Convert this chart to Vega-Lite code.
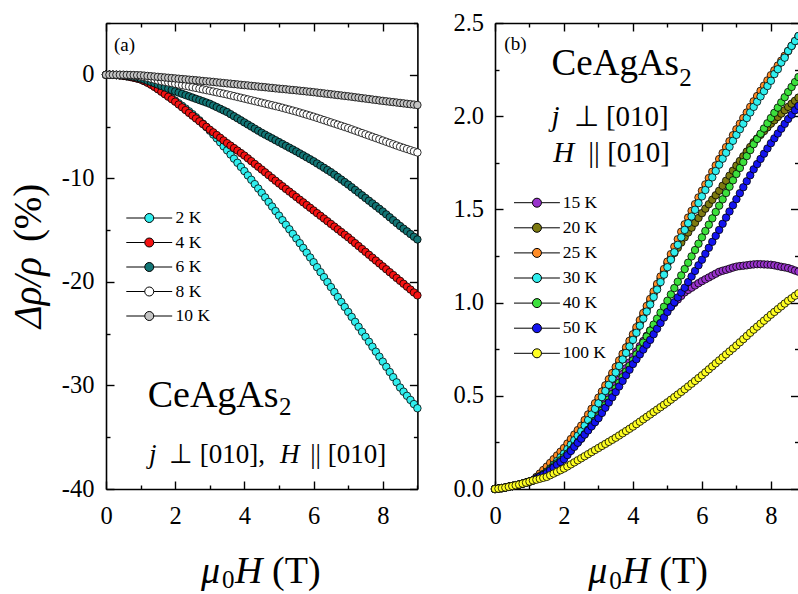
{
"$schema":"https://vega.github.io/schema/vega-lite/v6.json",
"padding":{"left":9,"top":10,"right":0,"bottom":0},
"background":"white",
"bounds":"flush",
"spacing":77,
"config":{"font":"Liberation Serif","view":{"stroke":null},
 "axis":{"domainColor":"black","domainWidth":1.6,"tickColor":"black","tickWidth":1.4,"labelFont":"Liberation Serif","labelFontSize":24.5,"labelColor":"black","grid":false,"labelFlush":false,"labelOverlap":false,"labelBound":false},
 "legend":{"labelFont":"Liberation Serif","labelColor":"black","padding":0},
 "text":{"font":"Liberation Serif","color":"black","align":"left","baseline":"alphabetic"}
},
"resolve":{"scale":{"fill":"independent"},"legend":{"fill":"independent"}},
"datasets":{
"a":[
{"s":2,"x":0,"y":0},{"s":2,"x":0.1,"y":0},{"s":2,"x":0.2,"y":-0.01},{"s":2,"x":0.3,"y":-0.03},{"s":2,"x":0.4,"y":-0.06},{"s":2,"x":0.5,"y":-0.1},{"s":2,"x":0.6,"y":-0.15},{"s":2,"x":0.7,"y":-0.21},{"s":2,"x":0.8,"y":-0.28},{"s":2,"x":0.9,"y":-0.36},{"s":2,"x":1,"y":-0.45},
{"s":2,"x":1.1,"y":-0.6},{"s":2,"x":1.2,"y":-0.75},{"s":2,"x":1.3,"y":-0.93},{"s":2,"x":1.4,"y":-1.13},{"s":2,"x":1.5,"y":-1.35},{"s":2,"x":1.6,"y":-1.57},{"s":2,"x":1.7,"y":-1.8},{"s":2,"x":1.8,"y":-2.03},{"s":2,"x":1.9,"y":-2.26},{"s":2,"x":2,"y":-2.5},
{"s":2,"x":2.1,"y":-2.75},{"s":2,"x":2.2,"y":-3},{"s":2,"x":2.3,"y":-3.26},{"s":2,"x":2.4,"y":-3.53},{"s":2,"x":2.5,"y":-3.8},{"s":2,"x":2.6,"y":-4.1},{"s":2,"x":2.7,"y":-4.4},{"s":2,"x":2.8,"y":-4.72},{"s":2,"x":2.9,"y":-5.05},{"s":2,"x":3,"y":-5.4},
{"s":2,"x":3.1,"y":-5.77},{"s":2,"x":3.2,"y":-6.14},{"s":2,"x":3.3,"y":-6.52},{"s":2,"x":3.4,"y":-6.91},{"s":2,"x":3.5,"y":-7.3},{"s":2,"x":3.6,"y":-7.7},{"s":2,"x":3.7,"y":-8.1},{"s":2,"x":3.8,"y":-8.5},{"s":2,"x":3.9,"y":-8.9},{"s":2,"x":4,"y":-9.3},
{"s":2,"x":4.1,"y":-9.72},{"s":2,"x":4.2,"y":-10.14},{"s":2,"x":4.3,"y":-10.56},{"s":2,"x":4.4,"y":-10.98},{"s":2,"x":4.5,"y":-11.4},{"s":2,"x":4.6,"y":-11.84},{"s":2,"x":4.7,"y":-12.28},{"s":2,"x":4.8,"y":-12.72},{"s":2,"x":4.9,"y":-13.16},{"s":2,"x":5,"y":-13.6},
{"s":2,"x":5.1,"y":-14.04},{"s":2,"x":5.2,"y":-14.48},{"s":2,"x":5.3,"y":-14.92},{"s":2,"x":5.4,"y":-15.36},{"s":2,"x":5.5,"y":-15.8},{"s":2,"x":5.6,"y":-16.26},{"s":2,"x":5.7,"y":-16.72},{"s":2,"x":5.8,"y":-17.18},{"s":2,"x":5.9,"y":-17.64},{"s":2,"x":6,"y":-18.1},
{"s":2,"x":6.1,"y":-18.58},{"s":2,"x":6.2,"y":-19.06},{"s":2,"x":6.3,"y":-19.54},{"s":2,"x":6.4,"y":-20.02},{"s":2,"x":6.5,"y":-20.5},{"s":2,"x":6.6,"y":-20.98},{"s":2,"x":6.7,"y":-21.46},{"s":2,"x":6.8,"y":-21.94},{"s":2,"x":6.9,"y":-22.42},{"s":2,"x":7,"y":-22.9},
{"s":2,"x":7.1,"y":-23.38},{"s":2,"x":7.2,"y":-23.86},{"s":2,"x":7.3,"y":-24.34},{"s":2,"x":7.4,"y":-24.82},{"s":2,"x":7.5,"y":-25.3},{"s":2,"x":7.6,"y":-25.78},{"s":2,"x":7.7,"y":-26.26},{"s":2,"x":7.8,"y":-26.74},{"s":2,"x":7.9,"y":-27.22},{"s":2,"x":8,"y":-27.7},
{"s":2,"x":8.1,"y":-28.2},{"s":2,"x":8.2,"y":-28.7},{"s":2,"x":8.3,"y":-29.2},{"s":2,"x":8.4,"y":-29.7},{"s":2,"x":8.5,"y":-30.2},{"s":2,"x":8.6,"y":-30.6},{"s":2,"x":8.7,"y":-31},{"s":2,"x":8.8,"y":-31.4},{"s":2,"x":8.9,"y":-31.8},{"s":2,"x":9,"y":-32.2},
{"s":4,"x":0,"y":0},{"s":4,"x":0.1,"y":0},{"s":4,"x":0.2,"y":-0.01},{"s":4,"x":0.3,"y":-0.03},{"s":4,"x":0.4,"y":-0.06},{"s":4,"x":0.5,"y":-0.1},{"s":4,"x":0.6,"y":-0.15},{"s":4,"x":0.7,"y":-0.21},{"s":4,"x":0.8,"y":-0.28},{"s":4,"x":0.9,"y":-0.36},{"s":4,"x":1,"y":-0.45},
{"s":4,"x":1.1,"y":-0.6},{"s":4,"x":1.2,"y":-0.77},{"s":4,"x":1.3,"y":-0.96},{"s":4,"x":1.4,"y":-1.17},{"s":4,"x":1.5,"y":-1.4},{"s":4,"x":1.6,"y":-1.64},{"s":4,"x":1.7,"y":-1.88},{"s":4,"x":1.8,"y":-2.12},{"s":4,"x":1.9,"y":-2.36},{"s":4,"x":2,"y":-2.6},
{"s":4,"x":2.1,"y":-2.87},{"s":4,"x":2.2,"y":-3.14},{"s":4,"x":2.3,"y":-3.41},{"s":4,"x":2.4,"y":-3.68},{"s":4,"x":2.5,"y":-3.95},{"s":4,"x":2.6,"y":-4.22},{"s":4,"x":2.7,"y":-4.49},{"s":4,"x":2.8,"y":-4.76},{"s":4,"x":2.9,"y":-5.03},{"s":4,"x":3,"y":-5.3},
{"s":4,"x":3.1,"y":-5.56},{"s":4,"x":3.2,"y":-5.82},{"s":4,"x":3.3,"y":-6.08},{"s":4,"x":3.4,"y":-6.34},{"s":4,"x":3.5,"y":-6.6},{"s":4,"x":3.6,"y":-6.84},{"s":4,"x":3.7,"y":-7.08},{"s":4,"x":3.8,"y":-7.32},{"s":4,"x":3.9,"y":-7.56},{"s":4,"x":4,"y":-7.8},
{"s":4,"x":4.1,"y":-8.07},{"s":4,"x":4.2,"y":-8.34},{"s":4,"x":4.3,"y":-8.61},{"s":4,"x":4.4,"y":-8.88},{"s":4,"x":4.5,"y":-9.15},{"s":4,"x":4.6,"y":-9.42},{"s":4,"x":4.7,"y":-9.69},{"s":4,"x":4.8,"y":-9.96},{"s":4,"x":4.9,"y":-10.23},{"s":4,"x":5,"y":-10.5},
{"s":4,"x":5.1,"y":-10.76},{"s":4,"x":5.2,"y":-11.02},{"s":4,"x":5.3,"y":-11.28},{"s":4,"x":5.4,"y":-11.54},{"s":4,"x":5.5,"y":-11.8},{"s":4,"x":5.6,"y":-12.06},{"s":4,"x":5.7,"y":-12.32},{"s":4,"x":5.8,"y":-12.58},{"s":4,"x":5.9,"y":-12.84},{"s":4,"x":6,"y":-13.1},
{"s":4,"x":6.1,"y":-13.36},{"s":4,"x":6.2,"y":-13.62},{"s":4,"x":6.3,"y":-13.88},{"s":4,"x":6.4,"y":-14.14},{"s":4,"x":6.5,"y":-14.4},{"s":4,"x":6.6,"y":-14.66},{"s":4,"x":6.7,"y":-14.92},{"s":4,"x":6.8,"y":-15.18},{"s":4,"x":6.9,"y":-15.44},{"s":4,"x":7,"y":-15.7},
{"s":4,"x":7.1,"y":-15.98},{"s":4,"x":7.2,"y":-16.26},{"s":4,"x":7.3,"y":-16.54},{"s":4,"x":7.4,"y":-16.82},{"s":4,"x":7.5,"y":-17.1},{"s":4,"x":7.6,"y":-17.38},{"s":4,"x":7.7,"y":-17.66},{"s":4,"x":7.8,"y":-17.94},{"s":4,"x":7.9,"y":-18.22},{"s":4,"x":8,"y":-18.5},
{"s":4,"x":8.1,"y":-18.78},{"s":4,"x":8.2,"y":-19.06},{"s":4,"x":8.3,"y":-19.34},{"s":4,"x":8.4,"y":-19.62},{"s":4,"x":8.5,"y":-19.9},{"s":4,"x":8.6,"y":-20.18},{"s":4,"x":8.7,"y":-20.46},{"s":4,"x":8.8,"y":-20.74},{"s":4,"x":8.9,"y":-21.02},{"s":4,"x":9,"y":-21.3},
{"s":6,"x":0,"y":0},{"s":6,"x":0.1,"y":0},{"s":6,"x":0.2,"y":-0.01},{"s":6,"x":0.3,"y":-0.02},{"s":6,"x":0.4,"y":-0.03},{"s":6,"x":0.5,"y":-0.05},{"s":6,"x":0.6,"y":-0.09},{"s":6,"x":0.7,"y":-0.14},{"s":6,"x":0.8,"y":-0.2},{"s":6,"x":0.9,"y":-0.27},{"s":6,"x":1,"y":-0.35},
{"s":6,"x":1.1,"y":-0.46},{"s":6,"x":1.2,"y":-0.58},{"s":6,"x":1.3,"y":-0.7},{"s":6,"x":1.4,"y":-0.82},{"s":6,"x":1.5,"y":-0.95},{"s":6,"x":1.6,"y":-1.08},{"s":6,"x":1.7,"y":-1.21},{"s":6,"x":1.8,"y":-1.34},{"s":6,"x":1.9,"y":-1.47},{"s":6,"x":2,"y":-1.6},
{"s":6,"x":2.1,"y":-1.72},{"s":6,"x":2.2,"y":-1.84},{"s":6,"x":2.3,"y":-1.96},{"s":6,"x":2.4,"y":-2.08},{"s":6,"x":2.5,"y":-2.2},{"s":6,"x":2.6,"y":-2.32},{"s":6,"x":2.7,"y":-2.44},{"s":6,"x":2.8,"y":-2.56},{"s":6,"x":2.9,"y":-2.68},{"s":6,"x":3,"y":-2.8},
{"s":6,"x":3.1,"y":-2.96},{"s":6,"x":3.2,"y":-3.12},{"s":6,"x":3.3,"y":-3.28},{"s":6,"x":3.4,"y":-3.44},{"s":6,"x":3.5,"y":-3.6},{"s":6,"x":3.6,"y":-3.8},{"s":6,"x":3.7,"y":-4},{"s":6,"x":3.8,"y":-4.2},{"s":6,"x":3.9,"y":-4.4},{"s":6,"x":4,"y":-4.6},
{"s":6,"x":4.1,"y":-4.8},{"s":6,"x":4.2,"y":-5},{"s":6,"x":4.3,"y":-5.2},{"s":6,"x":4.4,"y":-5.4},{"s":6,"x":4.5,"y":-5.6},{"s":6,"x":4.6,"y":-5.78},{"s":6,"x":4.7,"y":-5.96},{"s":6,"x":4.8,"y":-6.14},{"s":6,"x":4.9,"y":-6.32},{"s":6,"x":5,"y":-6.5},
{"s":6,"x":5.1,"y":-6.68},{"s":6,"x":5.2,"y":-6.86},{"s":6,"x":5.3,"y":-7.04},{"s":6,"x":5.4,"y":-7.22},{"s":6,"x":5.5,"y":-7.4},{"s":6,"x":5.6,"y":-7.59},{"s":6,"x":5.7,"y":-7.78},{"s":6,"x":5.8,"y":-7.97},{"s":6,"x":5.9,"y":-8.16},{"s":6,"x":6,"y":-8.35},
{"s":6,"x":6.1,"y":-8.56},{"s":6,"x":6.2,"y":-8.77},{"s":6,"x":6.3,"y":-8.98},{"s":6,"x":6.4,"y":-9.19},{"s":6,"x":6.5,"y":-9.4},{"s":6,"x":6.6,"y":-9.64},{"s":6,"x":6.7,"y":-9.88},{"s":6,"x":6.8,"y":-10.12},{"s":6,"x":6.9,"y":-10.36},{"s":6,"x":7,"y":-10.6},
{"s":6,"x":7.1,"y":-10.86},{"s":6,"x":7.2,"y":-11.12},{"s":6,"x":7.3,"y":-11.38},{"s":6,"x":7.4,"y":-11.64},{"s":6,"x":7.5,"y":-11.9},{"s":6,"x":7.6,"y":-12.16},{"s":6,"x":7.7,"y":-12.42},{"s":6,"x":7.8,"y":-12.68},{"s":6,"x":7.9,"y":-12.94},{"s":6,"x":8,"y":-13.2},
{"s":6,"x":8.1,"y":-13.48},{"s":6,"x":8.2,"y":-13.76},{"s":6,"x":8.3,"y":-14.04},{"s":6,"x":8.4,"y":-14.32},{"s":6,"x":8.5,"y":-14.6},{"s":6,"x":8.6,"y":-14.86},{"s":6,"x":8.7,"y":-15.12},{"s":6,"x":8.8,"y":-15.38},{"s":6,"x":8.9,"y":-15.64},{"s":6,"x":9,"y":-15.9},
{"s":8,"x":0,"y":0},{"s":8,"x":0.1,"y":0},{"s":8,"x":0.2,"y":0},{"s":8,"x":0.3,"y":-0.01},{"s":8,"x":0.4,"y":-0.01},{"s":8,"x":0.5,"y":-0.02},{"s":8,"x":0.6,"y":-0.04},{"s":8,"x":0.7,"y":-0.06},{"s":8,"x":0.8,"y":-0.09},{"s":8,"x":0.9,"y":-0.12},{"s":8,"x":1,"y":-0.16},
{"s":8,"x":1.1,"y":-0.22},{"s":8,"x":1.2,"y":-0.29},{"s":8,"x":1.3,"y":-0.37},{"s":8,"x":1.4,"y":-0.46},{"s":8,"x":1.5,"y":-0.55},{"s":8,"x":1.6,"y":-0.62},{"s":8,"x":1.7,"y":-0.68},{"s":8,"x":1.8,"y":-0.74},{"s":8,"x":1.9,"y":-0.8},{"s":8,"x":2,"y":-0.87},
{"s":8,"x":2.1,"y":-0.94},{"s":8,"x":2.2,"y":-1},{"s":8,"x":2.3,"y":-1.07},{"s":8,"x":2.4,"y":-1.13},{"s":8,"x":2.5,"y":-1.2},{"s":8,"x":2.6,"y":-1.27},{"s":8,"x":2.7,"y":-1.34},{"s":8,"x":2.8,"y":-1.41},{"s":8,"x":2.9,"y":-1.48},{"s":8,"x":3,"y":-1.55},
{"s":8,"x":3.1,"y":-1.62},{"s":8,"x":3.2,"y":-1.69},{"s":8,"x":3.3,"y":-1.76},{"s":8,"x":3.4,"y":-1.83},{"s":8,"x":3.5,"y":-1.9},{"s":8,"x":3.6,"y":-1.98},{"s":8,"x":3.7,"y":-2.06},{"s":8,"x":3.8,"y":-2.14},{"s":8,"x":3.9,"y":-2.22},{"s":8,"x":4,"y":-2.3},
{"s":8,"x":4.1,"y":-2.38},{"s":8,"x":4.2,"y":-2.46},{"s":8,"x":4.3,"y":-2.54},{"s":8,"x":4.4,"y":-2.62},{"s":8,"x":4.5,"y":-2.7},{"s":8,"x":4.6,"y":-2.78},{"s":8,"x":4.7,"y":-2.86},{"s":8,"x":4.8,"y":-2.94},{"s":8,"x":4.9,"y":-3.02},{"s":8,"x":5,"y":-3.1},
{"s":8,"x":5.1,"y":-3.19},{"s":8,"x":5.2,"y":-3.28},{"s":8,"x":5.3,"y":-3.37},{"s":8,"x":5.4,"y":-3.46},{"s":8,"x":5.5,"y":-3.55},{"s":8,"x":5.6,"y":-3.65},{"s":8,"x":5.7,"y":-3.75},{"s":8,"x":5.8,"y":-3.85},{"s":8,"x":5.9,"y":-3.95},{"s":8,"x":6,"y":-4.05},
{"s":8,"x":6.1,"y":-4.16},{"s":8,"x":6.2,"y":-4.27},{"s":8,"x":6.3,"y":-4.38},{"s":8,"x":6.4,"y":-4.49},{"s":8,"x":6.5,"y":-4.6},{"s":8,"x":6.6,"y":-4.71},{"s":8,"x":6.7,"y":-4.82},{"s":8,"x":6.8,"y":-4.93},{"s":8,"x":6.9,"y":-5.04},{"s":8,"x":7,"y":-5.15},
{"s":8,"x":7.1,"y":-5.27},{"s":8,"x":7.2,"y":-5.39},{"s":8,"x":7.3,"y":-5.51},{"s":8,"x":7.4,"y":-5.63},{"s":8,"x":7.5,"y":-5.75},{"s":8,"x":7.6,"y":-5.87},{"s":8,"x":7.7,"y":-5.99},{"s":8,"x":7.8,"y":-6.11},{"s":8,"x":7.9,"y":-6.23},{"s":8,"x":8,"y":-6.35},
{"s":8,"x":8.1,"y":-6.47},{"s":8,"x":8.2,"y":-6.59},{"s":8,"x":8.3,"y":-6.71},{"s":8,"x":8.4,"y":-6.83},{"s":8,"x":8.5,"y":-6.95},{"s":8,"x":8.6,"y":-7.06},{"s":8,"x":8.7,"y":-7.17},{"s":8,"x":8.8,"y":-7.28},{"s":8,"x":8.9,"y":-7.39},{"s":8,"x":9,"y":-7.5},
{"s":10,"x":0,"y":0},{"s":10,"x":0.1,"y":0},{"s":10,"x":0.2,"y":0},{"s":10,"x":0.3,"y":0},{"s":10,"x":0.4,"y":0},{"s":10,"x":0.5,"y":0},{"s":10,"x":0.6,"y":-0.01},{"s":10,"x":0.7,"y":-0.02},{"s":10,"x":0.8,"y":-0.03},{"s":10,"x":0.9,"y":-0.04},{"s":10,"x":1,"y":-0.05},
{"s":10,"x":1.1,"y":-0.08},{"s":10,"x":1.2,"y":-0.11},{"s":10,"x":1.3,"y":-0.14},{"s":10,"x":1.4,"y":-0.17},{"s":10,"x":1.5,"y":-0.2},{"s":10,"x":1.6,"y":-0.23},{"s":10,"x":1.7,"y":-0.26},{"s":10,"x":1.8,"y":-0.29},{"s":10,"x":1.9,"y":-0.32},{"s":10,"x":2,"y":-0.35},
{"s":10,"x":2.1,"y":-0.38},{"s":10,"x":2.2,"y":-0.41},{"s":10,"x":2.3,"y":-0.44},{"s":10,"x":2.4,"y":-0.47},{"s":10,"x":2.5,"y":-0.5},{"s":10,"x":2.6,"y":-0.53},{"s":10,"x":2.7,"y":-0.56},{"s":10,"x":2.8,"y":-0.6},{"s":10,"x":2.9,"y":-0.63},{"s":10,"x":3,"y":-0.66},
{"s":10,"x":3.1,"y":-0.69},{"s":10,"x":3.2,"y":-0.73},{"s":10,"x":3.3,"y":-0.76},{"s":10,"x":3.4,"y":-0.8},{"s":10,"x":3.5,"y":-0.83},{"s":10,"x":3.6,"y":-0.86},{"s":10,"x":3.7,"y":-0.9},{"s":10,"x":3.8,"y":-0.93},{"s":10,"x":3.9,"y":-0.97},{"s":10,"x":4,"y":-1},
{"s":10,"x":4.1,"y":-1.03},{"s":10,"x":4.2,"y":-1.07},{"s":10,"x":4.3,"y":-1.1},{"s":10,"x":4.4,"y":-1.14},{"s":10,"x":4.5,"y":-1.17},{"s":10,"x":4.6,"y":-1.2},{"s":10,"x":4.7,"y":-1.24},{"s":10,"x":4.8,"y":-1.27},{"s":10,"x":4.9,"y":-1.31},{"s":10,"x":5,"y":-1.34},
{"s":10,"x":5.1,"y":-1.37},{"s":10,"x":5.2,"y":-1.4},{"s":10,"x":5.3,"y":-1.44},{"s":10,"x":5.4,"y":-1.47},{"s":10,"x":5.5,"y":-1.5},{"s":10,"x":5.6,"y":-1.54},{"s":10,"x":5.7,"y":-1.57},{"s":10,"x":5.8,"y":-1.61},{"s":10,"x":5.9,"y":-1.64},{"s":10,"x":6,"y":-1.68},
{"s":10,"x":6.1,"y":-1.72},{"s":10,"x":6.2,"y":-1.76},{"s":10,"x":6.3,"y":-1.8},{"s":10,"x":6.4,"y":-1.84},{"s":10,"x":6.5,"y":-1.88},{"s":10,"x":6.6,"y":-1.92},{"s":10,"x":6.7,"y":-1.96},{"s":10,"x":6.8,"y":-2},{"s":10,"x":6.9,"y":-2.04},{"s":10,"x":7,"y":-2.08},
{"s":10,"x":7.1,"y":-2.12},{"s":10,"x":7.2,"y":-2.17},{"s":10,"x":7.3,"y":-2.21},{"s":10,"x":7.4,"y":-2.26},{"s":10,"x":7.5,"y":-2.3},{"s":10,"x":7.6,"y":-2.34},{"s":10,"x":7.7,"y":-2.39},{"s":10,"x":7.8,"y":-2.43},{"s":10,"x":7.9,"y":-2.48},{"s":10,"x":8,"y":-2.52},
{"s":10,"x":8.1,"y":-2.56},{"s":10,"x":8.2,"y":-2.6},{"s":10,"x":8.3,"y":-2.64},{"s":10,"x":8.4,"y":-2.68},{"s":10,"x":8.5,"y":-2.72},{"s":10,"x":8.6,"y":-2.76},{"s":10,"x":8.7,"y":-2.8},{"s":10,"x":8.8,"y":-2.84},{"s":10,"x":8.9,"y":-2.88},{"s":10,"x":9,"y":-2.92}
],
"b":[
{"s":15,"x":0,"y":0},{"s":15,"x":0.1,"y":0.002},{"s":15,"x":0.2,"y":0.005},{"s":15,"x":0.3,"y":0.008},{"s":15,"x":0.4,"y":0.012},{"s":15,"x":0.5,"y":0.016},{"s":15,"x":0.6,"y":0.02},{"s":15,"x":0.7,"y":0.024},{"s":15,"x":0.8,"y":0.029},{"s":15,"x":0.9,"y":0.034},{"s":15,"x":1,"y":0.04},{"s":15,"x":1.1,"y":0.046},
{"s":15,"x":1.2,"y":0.06},{"s":15,"x":1.3,"y":0.073},{"s":15,"x":1.4,"y":0.087},{"s":15,"x":1.5,"y":0.1},{"s":15,"x":1.6,"y":0.118},{"s":15,"x":1.7,"y":0.136},{"s":15,"x":1.8,"y":0.154},{"s":15,"x":1.9,"y":0.172},{"s":15,"x":2,"y":0.19},
{"s":15,"x":2.1,"y":0.21},{"s":15,"x":2.2,"y":0.23},{"s":15,"x":2.3,"y":0.25},{"s":15,"x":2.4,"y":0.27},{"s":15,"x":2.5,"y":0.29},{"s":15,"x":2.6,"y":0.314},{"s":15,"x":2.7,"y":0.338},{"s":15,"x":2.8,"y":0.362},{"s":15,"x":2.9,"y":0.386},{"s":15,"x":3,"y":0.41},
{"s":15,"x":3.1,"y":0.439},{"s":15,"x":3.2,"y":0.468},{"s":15,"x":3.3,"y":0.497},{"s":15,"x":3.4,"y":0.526},{"s":15,"x":3.5,"y":0.555},{"s":15,"x":3.6,"y":0.586},{"s":15,"x":3.7,"y":0.617},{"s":15,"x":3.8,"y":0.648},{"s":15,"x":3.9,"y":0.679},{"s":15,"x":4,"y":0.71},
{"s":15,"x":4.1,"y":0.738},{"s":15,"x":4.2,"y":0.766},{"s":15,"x":4.3,"y":0.794},{"s":15,"x":4.4,"y":0.822},{"s":15,"x":4.5,"y":0.85},{"s":15,"x":4.6,"y":0.872},{"s":15,"x":4.7,"y":0.894},{"s":15,"x":4.8,"y":0.916},{"s":15,"x":4.9,"y":0.938},{"s":15,"x":5,"y":0.96},
{"s":15,"x":5.1,"y":0.979},{"s":15,"x":5.2,"y":0.998},{"s":15,"x":5.3,"y":1.017},{"s":15,"x":5.4,"y":1.036},{"s":15,"x":5.5,"y":1.055},{"s":15,"x":5.6,"y":1.068},{"s":15,"x":5.7,"y":1.08},{"s":15,"x":5.8,"y":1.092},{"s":15,"x":5.9,"y":1.104},{"s":15,"x":6,"y":1.115},
{"s":15,"x":6.1,"y":1.125},{"s":15,"x":6.2,"y":1.135},{"s":15,"x":6.3,"y":1.145},{"s":15,"x":6.4,"y":1.155},{"s":15,"x":6.5,"y":1.165},{"s":15,"x":6.6,"y":1.171},{"s":15,"x":6.7,"y":1.176},{"s":15,"x":6.8,"y":1.182},{"s":15,"x":6.9,"y":1.188},{"s":15,"x":7,"y":1.193},
{"s":15,"x":7.1,"y":1.196},{"s":15,"x":7.2,"y":1.198},{"s":15,"x":7.3,"y":1.2},{"s":15,"x":7.4,"y":1.203},{"s":15,"x":7.5,"y":1.205},{"s":15,"x":7.6,"y":1.206},{"s":15,"x":7.7,"y":1.206},{"s":15,"x":7.8,"y":1.205},{"s":15,"x":7.9,"y":1.204},{"s":15,"x":8,"y":1.203},
{"s":15,"x":8.1,"y":1.2},{"s":15,"x":8.2,"y":1.196},{"s":15,"x":8.3,"y":1.192},{"s":15,"x":8.4,"y":1.189},{"s":15,"x":8.5,"y":1.185},{"s":15,"x":8.6,"y":1.179},{"s":15,"x":8.7,"y":1.172},{"s":15,"x":8.8,"y":1.166},
{"s":20,"x":0,"y":0},{"s":20,"x":0.1,"y":0.002},{"s":20,"x":0.2,"y":0.005},{"s":20,"x":0.3,"y":0.008},{"s":20,"x":0.4,"y":0.012},{"s":20,"x":0.5,"y":0.016},{"s":20,"x":0.6,"y":0.02},{"s":20,"x":0.7,"y":0.024},{"s":20,"x":0.8,"y":0.029},{"s":20,"x":0.9,"y":0.034},{"s":20,"x":1,"y":0.04},{"s":20,"x":1.1,"y":0.046},
{"s":20,"x":1.2,"y":0.06},{"s":20,"x":1.3,"y":0.072},{"s":20,"x":1.4,"y":0.088},{"s":20,"x":1.5,"y":0.105},{"s":20,"x":1.6,"y":0.125},{"s":20,"x":1.7,"y":0.145},{"s":20,"x":1.8,"y":0.165},{"s":20,"x":1.9,"y":0.185},{"s":20,"x":2,"y":0.205},
{"s":20,"x":2.1,"y":0.229},{"s":20,"x":2.2,"y":0.253},{"s":20,"x":2.3,"y":0.277},{"s":20,"x":2.4,"y":0.301},{"s":20,"x":2.5,"y":0.325},{"s":20,"x":2.6,"y":0.355},{"s":20,"x":2.7,"y":0.385},{"s":20,"x":2.8,"y":0.415},{"s":20,"x":2.9,"y":0.445},{"s":20,"x":3,"y":0.475},
{"s":20,"x":3.1,"y":0.508},{"s":20,"x":3.2,"y":0.541},{"s":20,"x":3.3,"y":0.574},{"s":20,"x":3.4,"y":0.607},{"s":20,"x":3.5,"y":0.64},{"s":20,"x":3.6,"y":0.675},{"s":20,"x":3.7,"y":0.71},{"s":20,"x":3.8,"y":0.745},{"s":20,"x":3.9,"y":0.78},{"s":20,"x":4,"y":0.815},
{"s":20,"x":4.1,"y":0.853},{"s":20,"x":4.2,"y":0.891},{"s":20,"x":4.3,"y":0.929},{"s":20,"x":4.4,"y":0.967},{"s":20,"x":4.5,"y":1.005},{"s":20,"x":4.6,"y":1.046},{"s":20,"x":4.7,"y":1.087},{"s":20,"x":4.8,"y":1.128},{"s":20,"x":4.9,"y":1.169},{"s":20,"x":5,"y":1.21},
{"s":20,"x":5.1,"y":1.238},{"s":20,"x":5.2,"y":1.266},{"s":20,"x":5.3,"y":1.294},{"s":20,"x":5.4,"y":1.322},{"s":20,"x":5.5,"y":1.35},{"s":20,"x":5.6,"y":1.376},{"s":20,"x":5.7,"y":1.402},{"s":20,"x":5.8,"y":1.428},{"s":20,"x":5.9,"y":1.454},{"s":20,"x":6,"y":1.48},
{"s":20,"x":6.1,"y":1.504},{"s":20,"x":6.2,"y":1.528},{"s":20,"x":6.3,"y":1.552},{"s":20,"x":6.4,"y":1.576},{"s":20,"x":6.5,"y":1.6},{"s":20,"x":6.6,"y":1.627},{"s":20,"x":6.7,"y":1.654},{"s":20,"x":6.8,"y":1.681},{"s":20,"x":6.9,"y":1.708},{"s":20,"x":7,"y":1.735},
{"s":20,"x":7.1,"y":1.76},{"s":20,"x":7.2,"y":1.785},{"s":20,"x":7.3,"y":1.81},{"s":20,"x":7.4,"y":1.835},{"s":20,"x":7.5,"y":1.86},{"s":20,"x":7.6,"y":1.88},{"s":20,"x":7.7,"y":1.9},{"s":20,"x":7.8,"y":1.92},{"s":20,"x":7.9,"y":1.94},{"s":20,"x":8,"y":1.96},
{"s":20,"x":8.1,"y":1.978},{"s":20,"x":8.2,"y":1.996},{"s":20,"x":8.3,"y":2.014},{"s":20,"x":8.4,"y":2.032},{"s":20,"x":8.5,"y":2.05},{"s":20,"x":8.6,"y":2.067},{"s":20,"x":8.7,"y":2.083},{"s":20,"x":8.8,"y":2.1},
{"s":25,"x":0,"y":0},{"s":25,"x":0.1,"y":0.002},{"s":25,"x":0.2,"y":0.005},{"s":25,"x":0.3,"y":0.008},{"s":25,"x":0.4,"y":0.012},{"s":25,"x":0.5,"y":0.016},{"s":25,"x":0.6,"y":0.02},{"s":25,"x":0.7,"y":0.024},{"s":25,"x":0.8,"y":0.029},{"s":25,"x":0.9,"y":0.034},{"s":25,"x":1,"y":0.04},{"s":25,"x":1.1,"y":0.046},
{"s":25,"x":1.2,"y":0.065},{"s":25,"x":1.3,"y":0.083},{"s":25,"x":1.4,"y":0.102},{"s":25,"x":1.5,"y":0.12},{"s":25,"x":1.6,"y":0.14},{"s":25,"x":1.7,"y":0.16},{"s":25,"x":1.8,"y":0.18},{"s":25,"x":1.9,"y":0.2},{"s":25,"x":2,"y":0.22},
{"s":25,"x":2.1,"y":0.244},{"s":25,"x":2.2,"y":0.268},{"s":25,"x":2.3,"y":0.292},{"s":25,"x":2.4,"y":0.316},{"s":25,"x":2.5,"y":0.34},{"s":25,"x":2.6,"y":0.37},{"s":25,"x":2.7,"y":0.4},{"s":25,"x":2.8,"y":0.43},{"s":25,"x":2.9,"y":0.46},{"s":25,"x":3,"y":0.49},
{"s":25,"x":3.1,"y":0.523},{"s":25,"x":3.2,"y":0.556},{"s":25,"x":3.3,"y":0.589},{"s":25,"x":3.4,"y":0.622},{"s":25,"x":3.5,"y":0.655},{"s":25,"x":3.6,"y":0.69},{"s":25,"x":3.7,"y":0.725},{"s":25,"x":3.8,"y":0.76},{"s":25,"x":3.9,"y":0.795},{"s":25,"x":4,"y":0.83},
{"s":25,"x":4.1,"y":0.868},{"s":25,"x":4.2,"y":0.906},{"s":25,"x":4.3,"y":0.944},{"s":25,"x":4.4,"y":0.982},{"s":25,"x":4.5,"y":1.02},{"s":25,"x":4.6,"y":1.06},{"s":25,"x":4.7,"y":1.1},{"s":25,"x":4.8,"y":1.14},{"s":25,"x":4.9,"y":1.18},{"s":25,"x":5,"y":1.22},
{"s":25,"x":5.1,"y":1.26},{"s":25,"x":5.2,"y":1.3},{"s":25,"x":5.3,"y":1.34},{"s":25,"x":5.4,"y":1.38},{"s":25,"x":5.5,"y":1.42},{"s":25,"x":5.6,"y":1.456},{"s":25,"x":5.7,"y":1.492},{"s":25,"x":5.8,"y":1.528},{"s":25,"x":5.9,"y":1.564},{"s":25,"x":6,"y":1.6},
{"s":25,"x":6.1,"y":1.634},{"s":25,"x":6.2,"y":1.668},{"s":25,"x":6.3,"y":1.702},{"s":25,"x":6.4,"y":1.736},{"s":25,"x":6.5,"y":1.77},{"s":25,"x":6.6,"y":1.802},{"s":25,"x":6.7,"y":1.834},{"s":25,"x":6.8,"y":1.866},{"s":25,"x":6.9,"y":1.898},{"s":25,"x":7,"y":1.93},
{"s":25,"x":7.1,"y":1.96},{"s":25,"x":7.2,"y":1.99},{"s":25,"x":7.3,"y":2.02},{"s":25,"x":7.4,"y":2.05},{"s":25,"x":7.5,"y":2.08},{"s":25,"x":7.6,"y":2.108},{"s":25,"x":7.7,"y":2.136},{"s":25,"x":7.8,"y":2.164},{"s":25,"x":7.9,"y":2.192},{"s":25,"x":8,"y":2.22},
{"s":25,"x":8.1,"y":2.246},{"s":25,"x":8.2,"y":2.272},{"s":25,"x":8.3,"y":2.298},{"s":25,"x":8.4,"y":2.324},{"s":25,"x":8.5,"y":2.35},{"s":25,"x":8.6,"y":2.377},{"s":25,"x":8.7,"y":2.403},{"s":25,"x":8.8,"y":2.43},
{"s":30,"x":0,"y":0},{"s":30,"x":0.1,"y":0.002},{"s":30,"x":0.2,"y":0.005},{"s":30,"x":0.3,"y":0.008},{"s":30,"x":0.4,"y":0.012},{"s":30,"x":0.5,"y":0.016},{"s":30,"x":0.6,"y":0.02},{"s":30,"x":0.7,"y":0.024},{"s":30,"x":0.8,"y":0.029},{"s":30,"x":0.9,"y":0.034},{"s":30,"x":1,"y":0.04},{"s":30,"x":1.1,"y":0.046},
{"s":30,"x":1.2,"y":0.058},{"s":30,"x":1.3,"y":0.068},{"s":30,"x":1.4,"y":0.08},{"s":30,"x":1.5,"y":0.093},{"s":30,"x":1.6,"y":0.11},{"s":30,"x":1.7,"y":0.13},{"s":30,"x":1.8,"y":0.15},{"s":30,"x":1.9,"y":0.17},{"s":30,"x":2,"y":0.19},
{"s":30,"x":2.1,"y":0.214},{"s":30,"x":2.2,"y":0.238},{"s":30,"x":2.3,"y":0.262},{"s":30,"x":2.4,"y":0.286},{"s":30,"x":2.5,"y":0.31},{"s":30,"x":2.6,"y":0.34},{"s":30,"x":2.7,"y":0.37},{"s":30,"x":2.8,"y":0.4},{"s":30,"x":2.9,"y":0.43},{"s":30,"x":3,"y":0.46},
{"s":30,"x":3.1,"y":0.493},{"s":30,"x":3.2,"y":0.526},{"s":30,"x":3.3,"y":0.559},{"s":30,"x":3.4,"y":0.592},{"s":30,"x":3.5,"y":0.625},{"s":30,"x":3.6,"y":0.66},{"s":30,"x":3.7,"y":0.695},{"s":30,"x":3.8,"y":0.73},{"s":30,"x":3.9,"y":0.765},{"s":30,"x":4,"y":0.8},
{"s":30,"x":4.1,"y":0.838},{"s":30,"x":4.2,"y":0.876},{"s":30,"x":4.3,"y":0.914},{"s":30,"x":4.4,"y":0.952},{"s":30,"x":4.5,"y":0.99},{"s":30,"x":4.6,"y":1.03},{"s":30,"x":4.7,"y":1.07},{"s":30,"x":4.8,"y":1.11},{"s":30,"x":4.9,"y":1.15},{"s":30,"x":5,"y":1.19},
{"s":30,"x":5.1,"y":1.23},{"s":30,"x":5.2,"y":1.27},{"s":30,"x":5.3,"y":1.31},{"s":30,"x":5.4,"y":1.35},{"s":30,"x":5.5,"y":1.39},{"s":30,"x":5.6,"y":1.426},{"s":30,"x":5.7,"y":1.462},{"s":30,"x":5.8,"y":1.498},{"s":30,"x":5.9,"y":1.534},{"s":30,"x":6,"y":1.57},
{"s":30,"x":6.1,"y":1.604},{"s":30,"x":6.2,"y":1.638},{"s":30,"x":6.3,"y":1.672},{"s":30,"x":6.4,"y":1.706},{"s":30,"x":6.5,"y":1.74},{"s":30,"x":6.6,"y":1.772},{"s":30,"x":6.7,"y":1.804},{"s":30,"x":6.8,"y":1.836},{"s":30,"x":6.9,"y":1.868},{"s":30,"x":7,"y":1.9},
{"s":30,"x":7.1,"y":1.93},{"s":30,"x":7.2,"y":1.96},{"s":30,"x":7.3,"y":1.99},{"s":30,"x":7.4,"y":2.02},{"s":30,"x":7.5,"y":2.05},{"s":30,"x":7.6,"y":2.078},{"s":30,"x":7.7,"y":2.106},{"s":30,"x":7.8,"y":2.134},{"s":30,"x":7.9,"y":2.162},{"s":30,"x":8,"y":2.19},
{"s":30,"x":8.1,"y":2.226},{"s":30,"x":8.2,"y":2.252},{"s":30,"x":8.3,"y":2.288},{"s":30,"x":8.4,"y":2.314},{"s":30,"x":8.5,"y":2.35},{"s":30,"x":8.6,"y":2.377},{"s":30,"x":8.7,"y":2.403},{"s":30,"x":8.8,"y":2.43},
{"s":40,"x":0,"y":0},{"s":40,"x":0.1,"y":0.002},{"s":40,"x":0.2,"y":0.005},{"s":40,"x":0.3,"y":0.008},{"s":40,"x":0.4,"y":0.012},{"s":40,"x":0.5,"y":0.016},{"s":40,"x":0.6,"y":0.02},{"s":40,"x":0.7,"y":0.024},{"s":40,"x":0.8,"y":0.029},{"s":40,"x":0.9,"y":0.034},{"s":40,"x":1,"y":0.04},{"s":40,"x":1.1,"y":0.046},
{"s":40,"x":1.2,"y":0.057},{"s":40,"x":1.3,"y":0.068},{"s":40,"x":1.4,"y":0.079},{"s":40,"x":1.5,"y":0.09},{"s":40,"x":1.6,"y":0.106},{"s":40,"x":1.7,"y":0.122},{"s":40,"x":1.8,"y":0.138},{"s":40,"x":1.9,"y":0.154},{"s":40,"x":2,"y":0.17},
{"s":40,"x":2.1,"y":0.19},{"s":40,"x":2.2,"y":0.21},{"s":40,"x":2.3,"y":0.23},{"s":40,"x":2.4,"y":0.25},{"s":40,"x":2.5,"y":0.27},{"s":40,"x":2.6,"y":0.294},{"s":40,"x":2.7,"y":0.318},{"s":40,"x":2.8,"y":0.342},{"s":40,"x":2.9,"y":0.366},{"s":40,"x":3,"y":0.39},
{"s":40,"x":3.1,"y":0.42},{"s":40,"x":3.2,"y":0.45},{"s":40,"x":3.3,"y":0.48},{"s":40,"x":3.4,"y":0.51},{"s":40,"x":3.5,"y":0.54},{"s":40,"x":3.6,"y":0.57},{"s":40,"x":3.7,"y":0.6},{"s":40,"x":3.8,"y":0.63},{"s":40,"x":3.9,"y":0.66},{"s":40,"x":4,"y":0.69},
{"s":40,"x":4.1,"y":0.722},{"s":40,"x":4.2,"y":0.754},{"s":40,"x":4.3,"y":0.786},{"s":40,"x":4.4,"y":0.818},{"s":40,"x":4.5,"y":0.85},{"s":40,"x":4.6,"y":0.882},{"s":40,"x":4.7,"y":0.914},{"s":40,"x":4.8,"y":0.946},{"s":40,"x":4.9,"y":0.978},{"s":40,"x":5,"y":1.01},
{"s":40,"x":5.1,"y":1.044},{"s":40,"x":5.2,"y":1.078},{"s":40,"x":5.3,"y":1.112},{"s":40,"x":5.4,"y":1.146},{"s":40,"x":5.5,"y":1.18},{"s":40,"x":5.6,"y":1.214},{"s":40,"x":5.7,"y":1.248},{"s":40,"x":5.8,"y":1.282},{"s":40,"x":5.9,"y":1.316},{"s":40,"x":6,"y":1.35},
{"s":40,"x":6.1,"y":1.384},{"s":40,"x":6.2,"y":1.418},{"s":40,"x":6.3,"y":1.452},{"s":40,"x":6.4,"y":1.486},{"s":40,"x":6.5,"y":1.52},{"s":40,"x":6.6,"y":1.554},{"s":40,"x":6.7,"y":1.588},{"s":40,"x":6.8,"y":1.622},{"s":40,"x":6.9,"y":1.656},{"s":40,"x":7,"y":1.69},
{"s":40,"x":7.1,"y":1.722},{"s":40,"x":7.2,"y":1.754},{"s":40,"x":7.3,"y":1.786},{"s":40,"x":7.4,"y":1.818},{"s":40,"x":7.5,"y":1.85},{"s":40,"x":7.6,"y":1.878},{"s":40,"x":7.7,"y":1.906},{"s":40,"x":7.8,"y":1.934},{"s":40,"x":7.9,"y":1.962},{"s":40,"x":8,"y":1.99},
{"s":40,"x":8.1,"y":2.018},{"s":40,"x":8.2,"y":2.046},{"s":40,"x":8.3,"y":2.074},{"s":40,"x":8.4,"y":2.102},{"s":40,"x":8.5,"y":2.13},{"s":40,"x":8.6,"y":2.157},{"s":40,"x":8.7,"y":2.183},{"s":40,"x":8.8,"y":2.21},
{"s":50,"x":0,"y":0},{"s":50,"x":0.1,"y":0.002},{"s":50,"x":0.2,"y":0.005},{"s":50,"x":0.3,"y":0.008},{"s":50,"x":0.4,"y":0.012},{"s":50,"x":0.5,"y":0.016},{"s":50,"x":0.6,"y":0.02},{"s":50,"x":0.7,"y":0.024},{"s":50,"x":0.8,"y":0.029},{"s":50,"x":0.9,"y":0.034},{"s":50,"x":1,"y":0.04},{"s":50,"x":1.1,"y":0.046},
{"s":50,"x":1.2,"y":0.056},{"s":50,"x":1.3,"y":0.066},{"s":50,"x":1.4,"y":0.075},{"s":50,"x":1.5,"y":0.085},{"s":50,"x":1.6,"y":0.1},{"s":50,"x":1.7,"y":0.115},{"s":50,"x":1.8,"y":0.13},{"s":50,"x":1.9,"y":0.145},{"s":50,"x":2,"y":0.16},
{"s":50,"x":2.1,"y":0.182},{"s":50,"x":2.2,"y":0.204},{"s":50,"x":2.3,"y":0.226},{"s":50,"x":2.4,"y":0.248},{"s":50,"x":2.5,"y":0.27},{"s":50,"x":2.6,"y":0.292},{"s":50,"x":2.7,"y":0.314},{"s":50,"x":2.8,"y":0.336},{"s":50,"x":2.9,"y":0.358},{"s":50,"x":3,"y":0.38},
{"s":50,"x":3.1,"y":0.408},{"s":50,"x":3.2,"y":0.436},{"s":50,"x":3.3,"y":0.464},{"s":50,"x":3.4,"y":0.492},{"s":50,"x":3.5,"y":0.52},{"s":50,"x":3.6,"y":0.55},{"s":50,"x":3.7,"y":0.58},{"s":50,"x":3.8,"y":0.61},{"s":50,"x":3.9,"y":0.64},{"s":50,"x":4,"y":0.67},
{"s":50,"x":4.1,"y":0.696},{"s":50,"x":4.2,"y":0.722},{"s":50,"x":4.3,"y":0.748},{"s":50,"x":4.4,"y":0.774},{"s":50,"x":4.5,"y":0.8},{"s":50,"x":4.6,"y":0.83},{"s":50,"x":4.7,"y":0.86},{"s":50,"x":4.8,"y":0.89},{"s":50,"x":4.9,"y":0.92},{"s":50,"x":5,"y":0.95},
{"s":50,"x":5.1,"y":0.976},{"s":50,"x":5.2,"y":1.002},{"s":50,"x":5.3,"y":1.028},{"s":50,"x":5.4,"y":1.054},{"s":50,"x":5.5,"y":1.08},{"s":50,"x":5.6,"y":1.11},{"s":50,"x":5.7,"y":1.14},{"s":50,"x":5.8,"y":1.17},{"s":50,"x":5.9,"y":1.2},{"s":50,"x":6,"y":1.23},
{"s":50,"x":6.1,"y":1.262},{"s":50,"x":6.2,"y":1.294},{"s":50,"x":6.3,"y":1.326},{"s":50,"x":6.4,"y":1.358},{"s":50,"x":6.5,"y":1.39},{"s":50,"x":6.6,"y":1.423},{"s":50,"x":6.7,"y":1.456},{"s":50,"x":6.8,"y":1.489},{"s":50,"x":6.9,"y":1.522},{"s":50,"x":7,"y":1.555},
{"s":50,"x":7.1,"y":1.587},{"s":50,"x":7.2,"y":1.619},{"s":50,"x":7.3,"y":1.651},{"s":50,"x":7.4,"y":1.683},{"s":50,"x":7.5,"y":1.715},{"s":50,"x":7.6,"y":1.743},{"s":50,"x":7.7,"y":1.771},{"s":50,"x":7.8,"y":1.799},{"s":50,"x":7.9,"y":1.827},{"s":50,"x":8,"y":1.855},
{"s":50,"x":8.1,"y":1.881},{"s":50,"x":8.2,"y":1.907},{"s":50,"x":8.3,"y":1.933},{"s":50,"x":8.4,"y":1.959},{"s":50,"x":8.5,"y":1.985},{"s":50,"x":8.6,"y":2.008},{"s":50,"x":8.7,"y":2.032},{"s":50,"x":8.8,"y":2.055},
{"s":100,"x":0,"y":0},{"s":100,"x":0.1,"y":0.002},{"s":100,"x":0.2,"y":0.005},{"s":100,"x":0.3,"y":0.008},{"s":100,"x":0.4,"y":0.012},{"s":100,"x":0.5,"y":0.016},{"s":100,"x":0.6,"y":0.02},{"s":100,"x":0.7,"y":0.024},{"s":100,"x":0.8,"y":0.029},{"s":100,"x":0.9,"y":0.034},{"s":100,"x":1,"y":0.04},{"s":100,"x":1.1,"y":0.046},
{"s":100,"x":1.2,"y":0.05},{"s":100,"x":1.3,"y":0.055},{"s":100,"x":1.4,"y":0.06},{"s":100,"x":1.5,"y":0.065},{"s":100,"x":1.6,"y":0.074},{"s":100,"x":1.7,"y":0.083},{"s":100,"x":1.8,"y":0.092},{"s":100,"x":1.9,"y":0.101},{"s":100,"x":2,"y":0.11},
{"s":100,"x":2.1,"y":0.121},{"s":100,"x":2.2,"y":0.132},{"s":100,"x":2.3,"y":0.143},{"s":100,"x":2.4,"y":0.154},{"s":100,"x":2.5,"y":0.165},{"s":100,"x":2.6,"y":0.176},{"s":100,"x":2.7,"y":0.187},{"s":100,"x":2.8,"y":0.198},{"s":100,"x":2.9,"y":0.209},{"s":100,"x":3,"y":0.22},
{"s":100,"x":3.1,"y":0.231},{"s":100,"x":3.2,"y":0.242},{"s":100,"x":3.3,"y":0.253},{"s":100,"x":3.4,"y":0.264},{"s":100,"x":3.5,"y":0.275},{"s":100,"x":3.6,"y":0.287},{"s":100,"x":3.7,"y":0.299},{"s":100,"x":3.8,"y":0.311},{"s":100,"x":3.9,"y":0.323},{"s":100,"x":4,"y":0.335},
{"s":100,"x":4.1,"y":0.348},{"s":100,"x":4.2,"y":0.361},{"s":100,"x":4.3,"y":0.374},{"s":100,"x":4.4,"y":0.387},{"s":100,"x":4.5,"y":0.4},{"s":100,"x":4.6,"y":0.413},{"s":100,"x":4.7,"y":0.426},{"s":100,"x":4.8,"y":0.439},{"s":100,"x":4.9,"y":0.452},{"s":100,"x":5,"y":0.465},
{"s":100,"x":5.1,"y":0.479},{"s":100,"x":5.2,"y":0.493},{"s":100,"x":5.3,"y":0.507},{"s":100,"x":5.4,"y":0.521},{"s":100,"x":5.5,"y":0.535},{"s":100,"x":5.6,"y":0.55},{"s":100,"x":5.7,"y":0.565},{"s":100,"x":5.8,"y":0.58},{"s":100,"x":5.9,"y":0.595},{"s":100,"x":6,"y":0.61},
{"s":100,"x":6.1,"y":0.626},{"s":100,"x":6.2,"y":0.642},{"s":100,"x":6.3,"y":0.658},{"s":100,"x":6.4,"y":0.674},{"s":100,"x":6.5,"y":0.69},{"s":100,"x":6.6,"y":0.706},{"s":100,"x":6.7,"y":0.722},{"s":100,"x":6.8,"y":0.738},{"s":100,"x":6.9,"y":0.754},{"s":100,"x":7,"y":0.77},
{"s":100,"x":7.1,"y":0.787},{"s":100,"x":7.2,"y":0.804},{"s":100,"x":7.3,"y":0.821},{"s":100,"x":7.4,"y":0.838},{"s":100,"x":7.5,"y":0.855},{"s":100,"x":7.6,"y":0.871},{"s":100,"x":7.7,"y":0.887},{"s":100,"x":7.8,"y":0.903},{"s":100,"x":7.9,"y":0.919},{"s":100,"x":8,"y":0.935},
{"s":100,"x":8.1,"y":0.95},{"s":100,"x":8.2,"y":0.965},{"s":100,"x":8.3,"y":0.98},{"s":100,"x":8.4,"y":0.995},{"s":100,"x":8.5,"y":1.01},{"s":100,"x":8.6,"y":1.023},{"s":100,"x":8.7,"y":1.037},{"s":100,"x":8.8,"y":1.05}
]
},
"hconcat":[
{"width":311.4,"height":466,
 "resolve":{"axis":{"x":"independent","y":"independent"}},
 "layer":[
  {"data":{"name":"a"},
   "mark":{"type":"point","shape":"circle","filled":true,"size":56,"stroke":"black","strokeWidth":0.8,"opacity":1},
   "encoding":{
    "x":{"field":"x","type":"quantitative","scale":{"domain":[0,9],"nice":false,"zero":false},
      "axis":{"orient":"bottom","values":[0,1,2,3,4,5,6,7,8,9],"tickSize":{"condition":{"test":"datum.value % 2 === 0","value":-8},"value":-4},"labelExpr":"datum.value % 2 === 0 ? datum.label : ''","labelPadding":23,"title":null}},
    "y":{"field":"y","type":"quantitative","scale":{"domain":[-40,5],"nice":false,"zero":false},
      "axis":{"orient":"left","values":[-40,-35,-30,-25,-20,-15,-10,-5,0,5],"tickSize":{"condition":{"test":"datum.value % 10 === 0","value":-8},"value":-4},"labelExpr":"datum.value % 10 === 0 ? replace(datum.label, '−', '-') : ''","labelPadding":20,"title":null}},
    "fill":{"field":"s","type":"nominal","scale":{"domain":[2,4,6,8,10],"range":["#30EEEE","#F51212","#127575","#FFFFFF","#C4C4C4"]},
      "legend":{"title":null,"orient":"none","legendX":34.5,"legendY":186.25,"symbolType":"M-5.1,0L-1,0M1,0L5.1,0M-1,0A1,1,0,1,1,1,0A1,1,0,1,1,-1,0Z","symbolSize":81,"symbolStrokeColor":"black","symbolStrokeWidth":1,"symbolOpacity":1,"labelFontSize":17.5,"labelOffset":17.5,"rowPadding":5.5,"labelExpr":"datum.label + ' K'"}}
   }},
  {"data":{"values":[{}]},"mark":{"type":"point","opacity":0},
   "encoding":{
    "x":{"datum":0,"type":"quantitative","scale":{"domain":[0,9],"nice":false,"zero":false},"axis":{"orient":"top","values":[0,1,2,3,4,5,6,7,8,9],"labels":false,"title":null,"tickSize":{"condition":{"test":"datum.value % 2 === 0","value":-8},"value":-4}}},
    "y":{"datum":0,"type":"quantitative","scale":{"domain":[-40,5],"nice":false,"zero":false},"axis":{"orient":"right","values":[-40,-35,-30,-25,-20,-15,-10,-5,0,5],"labels":false,"title":null,"tickSize":{"condition":{"test":"datum.value % 10 === 0","value":-8},"value":-4}}}
   }},
  {"data":{"values":[{}]},"mark":{"type":"text","text":"Δρ/ρ","fontSize":39,"fontStyle":"italic","angle":270},
   "encoding":{"x":{"datum":-1.879,"type":"quantitative","axis":null},"y":{"datum":-24.47,"type":"quantitative","axis":null}}},
  {"data":{"values":[{}]},"mark":{"type":"text","text":"(%)","fontSize":39,"angle":270},
   "encoding":{"x":{"datum":-1.879,"type":"quantitative","axis":null},"y":{"datum":-16.16,"type":"quantitative","axis":null}}},
  {"data":{"values":[{}]},"mark":{"type":"text","text":"μ","fontSize":38,"fontStyle":"italic"},
   "encoding":{"x":{"datum":2.746,"type":"quantitative","axis":null},"y":{"datum":-49.04,"type":"quantitative","axis":null}}},
  {"data":{"values":[{}]},"mark":{"type":"text","text":"0","fontSize":25},
   "encoding":{"x":{"datum":3.353,"type":"quantitative","axis":null},"y":{"datum":-49.57,"type":"quantitative","axis":null}}},
  {"data":{"values":[{}]},"mark":{"type":"text","text":"H","fontSize":38,"fontStyle":"italic"},
   "encoding":{"x":{"datum":3.728,"type":"quantitative","axis":null},"y":{"datum":-49.04,"type":"quantitative","axis":null}}},
  {"data":{"values":[{}]},"mark":{"type":"text","text":"(T)","fontSize":38},
   "encoding":{"x":{"datum":4.798,"type":"quantitative","axis":null},"y":{"datum":-49.04,"type":"quantitative","axis":null}}},
  {"data":{"values":[{}]},"mark":{"type":"text","text":"(a)","fontSize":19},
   "encoding":{"x":{"datum":0.23,"type":"quantitative","axis":null},"y":{"datum":2.3,"type":"quantitative","axis":null}}},
  {"data":{"values":[{}]},"mark":{"type":"text","text":"CeAgAs","fontSize":38},
   "encoding":{"x":{"datum":1.205,"type":"quantitative","axis":null},"y":{"datum":-32.05,"type":"quantitative","axis":null}}},
  {"data":{"values":[{}]},"mark":{"type":"text","text":"2","fontSize":25},
   "encoding":{"x":{"datum":5.0,"type":"quantitative","axis":null},"y":{"datum":-32.85,"type":"quantitative","axis":null}}},
  {"data":{"values":[{}]},"mark":{"type":"text","text":"j","fontSize":27,"fontStyle":"italic"},
   "encoding":{"x":{"datum":1.24,"type":"quantitative","axis":null},"y":{"datum":-37.48,"type":"quantitative","axis":null}}},
  {"data":{"values":[{}]},"mark":{"type":"text","text":"⊥ [010],","fontSize":27},
   "encoding":{"x":{"datum":1.82,"type":"quantitative","axis":null},"y":{"datum":-37.48,"type":"quantitative","axis":null}}},
  {"data":{"values":[{}]},"mark":{"type":"text","text":"H","fontSize":27,"fontStyle":"italic"},
   "encoding":{"x":{"datum":5.03,"type":"quantitative","axis":null},"y":{"datum":-37.48,"type":"quantitative","axis":null}}},
  {"data":{"values":[{}]},"mark":{"type":"text","text":"|| [010]","fontSize":27},
   "encoding":{"x":{"datum":5.9,"type":"quantitative","axis":null},"y":{"datum":-37.48,"type":"quantitative","axis":null}}}
 ]},
{"width":303.5,"height":466,
 "resolve":{"axis":{"x":"independent","y":"independent"}},
 "layer":[
  {"data":{"name":"b"},
   "mark":{"type":"point","shape":"circle","filled":true,"size":56,"stroke":"black","strokeWidth":0.8,"opacity":1},
   "encoding":{
    "x":{"field":"x","type":"quantitative","scale":{"domain":[0,8.8],"nice":false,"zero":false},
      "axis":{"orient":"bottom","values":[0,1,2,3,4,5,6,7,8],"tickSize":{"condition":{"test":"datum.value % 2 === 0","value":-8},"value":-4},"labelExpr":"datum.value % 2 === 0 ? datum.label : ''","labelPadding":23,"title":null}},
    "y":{"field":"y","type":"quantitative","scale":{"domain":[0,2.5],"nice":false,"zero":false},
      "axis":{"orient":"left","values":[0,0.25,0.5,0.75,1,1.25,1.5,1.75,2,2.25,2.5],"format":".1f","tickSize":{"condition":{"test":"abs(datum.value*2 - round(datum.value*2)) < 0.01","value":-8},"value":-4},"labelExpr":"abs(datum.value*2 - round(datum.value*2)) < 0.01 ? datum.label : ''","labelPadding":19.5,"title":null}},
    "fill":{"field":"s","type":"nominal","scale":{"domain":[15,20,25,30,40,50,100],"range":["#9933CC","#7D7A10","#FF8C26","#30EEEE","#3CE03C","#1414F0","#FFFF22"]},
      "legend":{"title":null,"orient":"none","legendX":33.2,"legendY":170.95,"symbolType":"M-5.1,0L-1,0M1,0L5.1,0M-1,0A1,1,0,1,1,1,0A1,1,0,1,1,-1,0Z","symbolSize":81,"symbolStrokeColor":"black","symbolStrokeWidth":1,"symbolOpacity":1,"labelFontSize":17.5,"labelOffset":17,"rowPadding":6.1,"labelExpr":"datum.label + ' K'"}}
   }},
  {"data":{"values":[{}]},"mark":{"type":"point","opacity":0},
   "encoding":{
    "x":{"datum":0,"type":"quantitative","scale":{"domain":[0,8.8],"nice":false,"zero":false},"axis":{"orient":"top","values":[0,1,2,3,4,5,6,7,8],"labels":false,"title":null,"tickSize":{"condition":{"test":"datum.value % 2 === 0","value":-8},"value":-4}}},
    "y":{"datum":0,"type":"quantitative","scale":{"domain":[0,2.5],"nice":false,"zero":false},"axis":{"orient":"right","values":[0,0.25,0.5,0.75,1,1.25,1.5,1.75,2,2.25,2.5],"labels":false,"title":null,"tickSize":{"condition":{"test":"abs(datum.value*2 - round(datum.value*2)) < 0.01","value":-8},"value":-4}}}
   }},
  {"data":{"values":[{}]},"mark":{"type":"text","text":"μ","fontSize":38,"fontStyle":"italic"},
   "encoding":{"x":{"datum":2.705,"type":"quantitative","axis":null},"y":{"datum":-0.5043,"type":"quantitative","axis":null}}},
  {"data":{"values":[{}]},"mark":{"type":"text","text":"0","fontSize":25},
   "encoding":{"x":{"datum":3.314,"type":"quantitative","axis":null},"y":{"datum":-0.5338,"type":"quantitative","axis":null}}},
  {"data":{"values":[{}]},"mark":{"type":"text","text":"H","fontSize":38,"fontStyle":"italic"},
   "encoding":{"x":{"datum":3.691,"type":"quantitative","axis":null},"y":{"datum":-0.5043,"type":"quantitative","axis":null}}},
  {"data":{"values":[{}]},"mark":{"type":"text","text":"(T)","fontSize":38},
   "encoding":{"x":{"datum":4.764,"type":"quantitative","axis":null},"y":{"datum":-0.5043,"type":"quantitative","axis":null}}},
  {"data":{"values":[{}]},"mark":{"type":"text","text":"(b)","fontSize":19},
   "encoding":{"x":{"datum":0.27,"type":"quantitative","axis":null},"y":{"datum":2.355,"type":"quantitative","axis":null}}},
  {"data":{"values":[{}]},"mark":{"type":"text","text":"CeAgAs","fontSize":37},
   "encoding":{"x":{"datum":1.64,"type":"quantitative","axis":null},"y":{"datum":2.221,"type":"quantitative","axis":null}}},
  {"data":{"values":[{}]},"mark":{"type":"text","text":"2","fontSize":25},
   "encoding":{"x":{"datum":5.34,"type":"quantitative","axis":null},"y":{"datum":2.162,"type":"quantitative","axis":null}}},
  {"data":{"values":[{}]},"mark":{"type":"text","text":"j","fontSize":29,"fontStyle":"italic"},
   "encoding":{"x":{"datum":1.64,"type":"quantitative","axis":null},"y":{"datum":1.947,"type":"quantitative","axis":null}}},
  {"data":{"values":[{}]},"mark":{"type":"text","text":"⊥ [010]","fontSize":29},
   "encoding":{"x":{"datum":2.28,"type":"quantitative","axis":null},"y":{"datum":1.947,"type":"quantitative","axis":null}}},
  {"data":{"values":[{}]},"mark":{"type":"text","text":"H","fontSize":29,"fontStyle":"italic"},
   "encoding":{"x":{"datum":1.686,"type":"quantitative","axis":null},"y":{"datum":1.756,"type":"quantitative","axis":null}}},
  {"data":{"values":[{}]},"mark":{"type":"text","text":"|| [010]","fontSize":29},
   "encoding":{"x":{"datum":2.705,"type":"quantitative","axis":null},"y":{"datum":1.756,"type":"quantitative","axis":null}}}
 ]}
]
}
